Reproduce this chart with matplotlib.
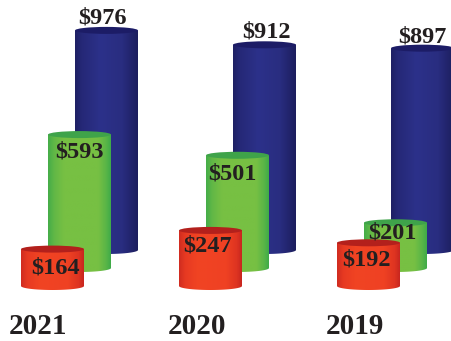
import numpy as np
import matplotlib
matplotlib.use('Agg')
import matplotlib.pyplot as plt
from matplotlib.colors import LinearSegmentedColormap
from matplotlib.patches import Ellipse, Polygon

years = ['2021', '2020', '2019']
blue_values = [976, 912, 897]
green_values = [593, 501, 201]
red_values = [164, 247, 192]

# one value unit is this many pixels tall
PX = 0.225
WIDTH = 63
INK = '#231f20'

fig = plt.figure(figsize=(4.51, 3.41), dpi=100)
ax = fig.add_axes([0, 0, 1, 1])
ax.axis('off')


def px(h):
    return h / PX


def cylinder(left, base, value, stops, top_color, z):
    right = left + WIDTH
    top = base + value
    cmap = LinearSegmentedColormap.from_list('c', stops)
    im = ax.imshow(np.linspace(0, 1, 128).reshape(1, -1), cmap=cmap, aspect='auto',
                   extent=[left, right, base - px(5), top], zorder=z, interpolation='bilinear')
    t = np.linspace(np.pi, 2 * np.pi, 40)
    arc = np.column_stack([left + WIDTH / 2 + WIDTH / 2 * np.cos(t), base + px(4) * np.sin(t)])
    outline = np.vstack([[left, top], arc, [right, top]])
    body = Polygon(outline, closed=True, transform=ax.transData, fc='none', ec='none')
    ax.add_patch(body)
    im.set_clip_path(body)
    ax.add_patch(Ellipse((left + WIDTH / 2, top), WIDTH, px(7), fc=top_color, ec='none', zorder=z + 0.1))


def label(x, y, dy, text):
    ax.annotate(text, (x, y), xytext=(0, dy * 0.72), textcoords='offset points', ha='center', va='baseline',
                family='Liberation Serif', weight='bold', fontsize=17.5, color=INK, zorder=20)


blue_stops = [(0, '#1e2064'), (0.1, '#252876'), (0.4, '#2c318a'), (0.75, '#292d80'), (1, '#1c1e5e')]
green_stops = [(0, '#45ad49'), (0.1, '#62b846'), (0.25, '#77c043'), (0.8, '#77c043'), (0.93, '#58b547'), (1, '#3fab49')]
red_stops = [(0, '#d02c20'), (0.1, '#e73a22'), (0.3, '#f14423'), (0.75, '#ef4123'), (0.92, '#de3421'), (1, '#c8261f')]

blue_left = [75, 233, 391]
green_left = [48, 206, 364]
red_left = [21, 179, 337]
blue_text = [102, 266, 422]
green_text = [79.5, 232, 392]
red_text = [55.5, 208, 366]
blue_dy = [7, 7.5, 6]
green_dy = [-22.5, -24, -16]
red_dy = [-24, -21, -22.5]
year_x = [38.5, 197, 354.5]

# the rear cylinders stand higher up the page to suggest depth
blue_base = px(36)
green_base = px(18)

for i in range(len(years)):
    cylinder(blue_left[i], blue_base, blue_values[i], blue_stops, '#1c1c66', 1 + i)
    cylinder(green_left[i], green_base, green_values[i], green_stops, '#3fa34a', 5 + i)
    cylinder(red_left[i], 0, red_values[i], red_stops, '#b3201c', 9 + i)
    label(blue_text[i], blue_base + blue_values[i], blue_dy[i], '$%d' % blue_values[i])
    label(green_text[i], green_base + green_values[i], green_dy[i], '$%d' % green_values[i])
    label(red_text[i], red_values[i], red_dy[i], '$%d' % red_values[i])
    ax.text(year_x[i], px(286 - 334.5), years[i], ha='center', va='baseline', family='Liberation Serif',
            weight='bold', fontsize=21, color=INK, zorder=20)

ax.set_xlim(0, 451)
ax.set_ylim(px(286 - 341), px(286))

fig.savefig('out.png', dpi=100)
